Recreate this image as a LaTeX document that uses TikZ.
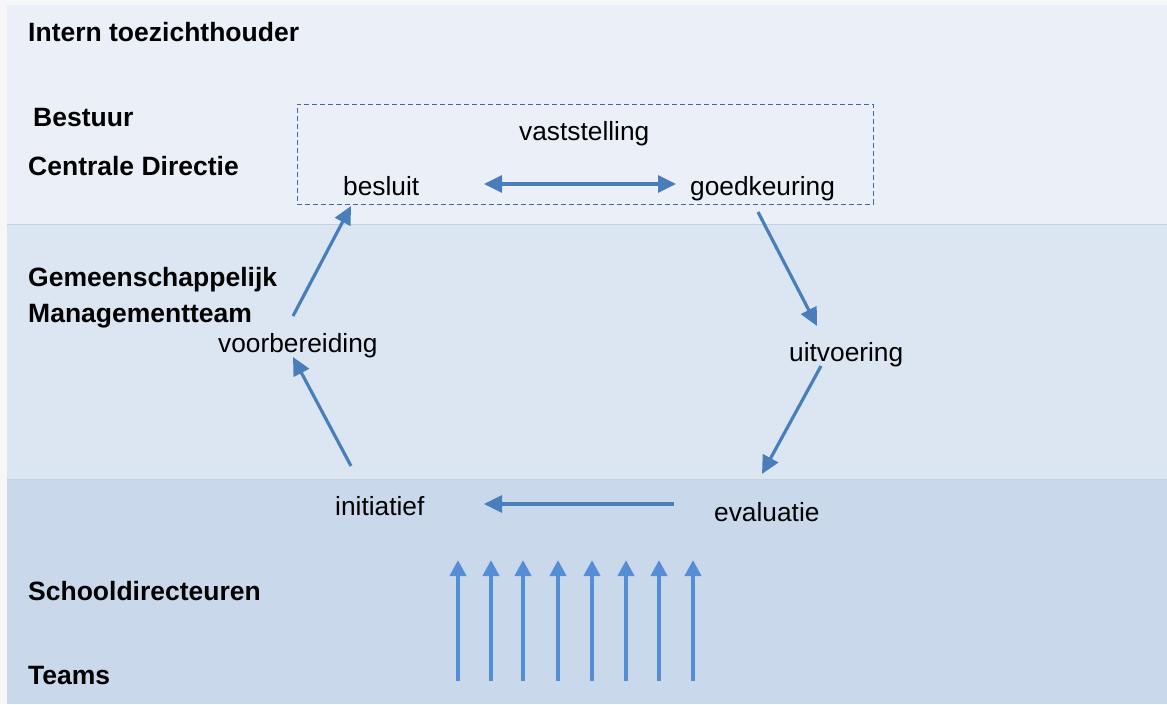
\documentclass[tikz,border=0pt]{standalone}
\usepackage{fontspec}
\setmainfont{Liberation Sans}
\usetikzlibrary{arrows.meta}
\definecolor{pagebg}{HTML}{F7F7F7}
\definecolor{bandA}{HTML}{EBF0F8}
\definecolor{bandB}{HTML}{DCE6F2}
\definecolor{bandC}{HTML}{C9D9EB}
\definecolor{bandline}{HTML}{C2D1E6}
\definecolor{flow}{HTML}{4A7EBB}
\definecolor{bright}{HTML}{558ED5}
\definecolor{boxline}{HTML}{3F68A6}
\begin{document}
\begin{tikzpicture}[x=1pt,y=-1pt,
  lvl/.style={font=\fontsize{26.5}{31}\selectfont\bfseries, anchor=base west, inner sep=0pt},
  lbl/.style={font=\fontsize{26.3}{31}\selectfont, anchor=base west, inner sep=0pt},
  flowarrow/.style={draw=flow, line width=3.2pt, -{Triangle[length=18pt,width=17pt]}},
  flowdouble/.style={draw=flow, line width=3.2pt, {Triangle[length=18pt,width=17pt]}-{Triangle[length=18pt,width=17pt]}},
  uparrow/.style={draw=bright, line width=4pt, -{Triangle[length=16pt,width=16pt]}},
  vbox/.style={draw=boxline, line width=1pt, dash pattern=on 5pt off 3pt, minimum width=576pt, minimum height=100pt, inner sep=0pt},
  band/.style={draw=bandline, line width=1pt}
]
\useasboundingbox (0,0) rectangle (1167,704);
\fill[pagebg] (0,0) rectangle (1167,704);
% bands
\fill[bandA] (7,5) rectangle (1167,224);
\fill[bandB] (7,224) rectangle (1167,479);
\fill[bandC] (7,479) rectangle (1167,704);
\draw[band] (7,224) -- (1167,224);
\draw[band] (7,479) -- (1167,479);
% level labels
\node[lvl] (intern) at (28,41) {Intern toezichthouder};
\node[lvl] (bestuur) at (33,126) {Bestuur};
\node[lvl] (cd) at (28,175) {Centrale Directie};
\node[lvl] (gem) at (28,286) {Gemeenschappelijk};
\node[lvl] (mt) at (28,322) {Managementteam};
\node[lvl] (sd) at (28,600) {Schooldirecteuren};
\node[lvl] (teams) at (28,684) {Teams};
% dashed box
\node[vbox] (box) at (585,154) {};
% cycle labels
\node[lbl] (vast) at (519,140) {vaststelling};
\node[lbl] (besluit) at (343,195) {besluit};
\node[lbl] (goed) at (690,195) {goedkeuring};
\node[lbl] (voorb) at (218,352) {voorbereiding};
\node[lbl] (uitv) at (789,361) {uitvoering};
\node[lbl] (init) at (335,515) {initiatief};
\node[lbl] (eval) at (714,521) {evaluatie};
% connector end points
\coordinate (bgL) at (484,184);
\coordinate (bgR) at (676,184);
\coordinate (vbS) at (293,316);
\coordinate (vbE) at (351,206);
\coordinate (guS) at (758,212);
\coordinate (guE) at (817,326);
\coordinate (ueS) at (821,366);
\coordinate (ueE) at (762,474);
\coordinate (eiS) at (674,504);
\coordinate (eiE) at (484,504);
\coordinate (ivS) at (351,466);
\coordinate (ivE) at (293,357);
% connectors
\draw[flowdouble] (bgL) -- (bgR);
\draw[flowarrow] (vbS) -- (vbE);
\draw[flowarrow] (guS) -- (guE);
\draw[flowarrow] (ueS) -- (ueE);
\draw[flowarrow] (eiS) -- (eiE);
\draw[flowarrow] (ivS) -- (ivE);
% bottom-up arrows
\foreach \i/\x in {1/458,2/491,3/523,4/558,5/592,6/626,7/659,8/693}{
  \coordinate (up\i s) at (\x,681);
  \coordinate (up\i e) at (\x,560);
  \draw[uparrow] (up\i s) -- (up\i e);
}
\end{tikzpicture}
\end{document}
